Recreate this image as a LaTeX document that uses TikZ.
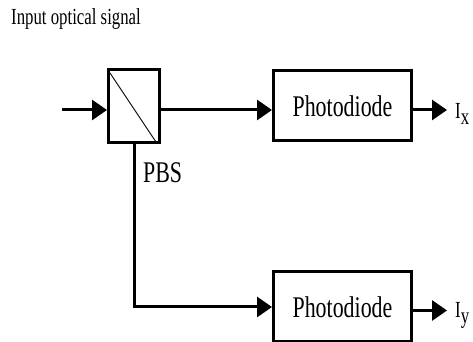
\documentclass[tikz,border=0pt]{standalone}
\usepackage{fontspec}
\newfontfamily\narrowserif[FakeStretch=0.73]{Liberation Serif}
\usepackage{tikz}
\usetikzlibrary{positioning}
\usetikzlibrary{calc}
\usetikzlibrary{arrows.meta}

\begin{document}
\begin{tikzpicture}[
    block/.style={draw, line width=3pt, minimum width=138pt, minimum height=70pt, inner sep=0pt, font=\narrowserif\fontsize{30}{36}\selectfont},
    splitter/.style={draw, line width=3pt, minimum width=51pt, minimum height=73pt, inner sep=0pt},
    lbl/.style={inner sep=0pt, font=\narrowserif\fontsize{30}{36}\selectfont},
    small/.style={inner sep=0pt, font=\narrowserif\fontsize{23}{28}\selectfont},
    outlbl/.style={small, inner xsep=8pt, anchor=base west},
    arr/.style={-{Triangle[length=15pt, width=20pt]}, line width=3pt}
]
\useasboundingbox (0,0) rectangle (473pt,342pt);

% Title
\node[small, anchor=base west] (title) at (11pt,317pt) {Input optical signal};

% Beam splitter
\node[splitter] (pbs) at (134pt,236pt) {};
\draw[line width=0.9pt] ([shift={(3pt,-5pt)}]pbs.north west) -- ([shift={(-5pt,2pt)}]pbs.south east);
\node[lbl, below right=18pt and 9pt of pbs.south] (pbslbl) {PBS};

% Photodiodes
\node[block, right=111pt of pbs] (pd1) {Photodiode};
\node[block, below=128pt of pd1] (pd2) {Photodiode};

% Outputs
\node[outlbl] (ix) at ([xshift=34pt,yshift=-13pt]pd1.east) {I\raisebox{-6pt}{x}};
\node[outlbl] (iy) at ([xshift=34pt,yshift=-10.5pt]pd2.east) {I\raisebox{-6pt}{y}};

% Input light
\coordinate (in) at ([xshift=-45pt,yshift=-4pt]pbs.west);

% Connections
\draw[arr] (in) -- ([yshift=-4pt]pbs.west);
\draw[arr] ([yshift=-4pt]pbs.east) -- ([yshift=-4pt]pd1.west);
\draw[arr] (pbs.south) |- (pd2.west);
\draw[arr] ([yshift=-4pt]pd1.east) -- ([yshift=-4pt]pd1.east -| ix.west);
\draw[arr] ([yshift=-3.5pt]pd2.east) -- ([yshift=-3.5pt]pd2.east -| iy.west);

\end{tikzpicture}
\end{document}
